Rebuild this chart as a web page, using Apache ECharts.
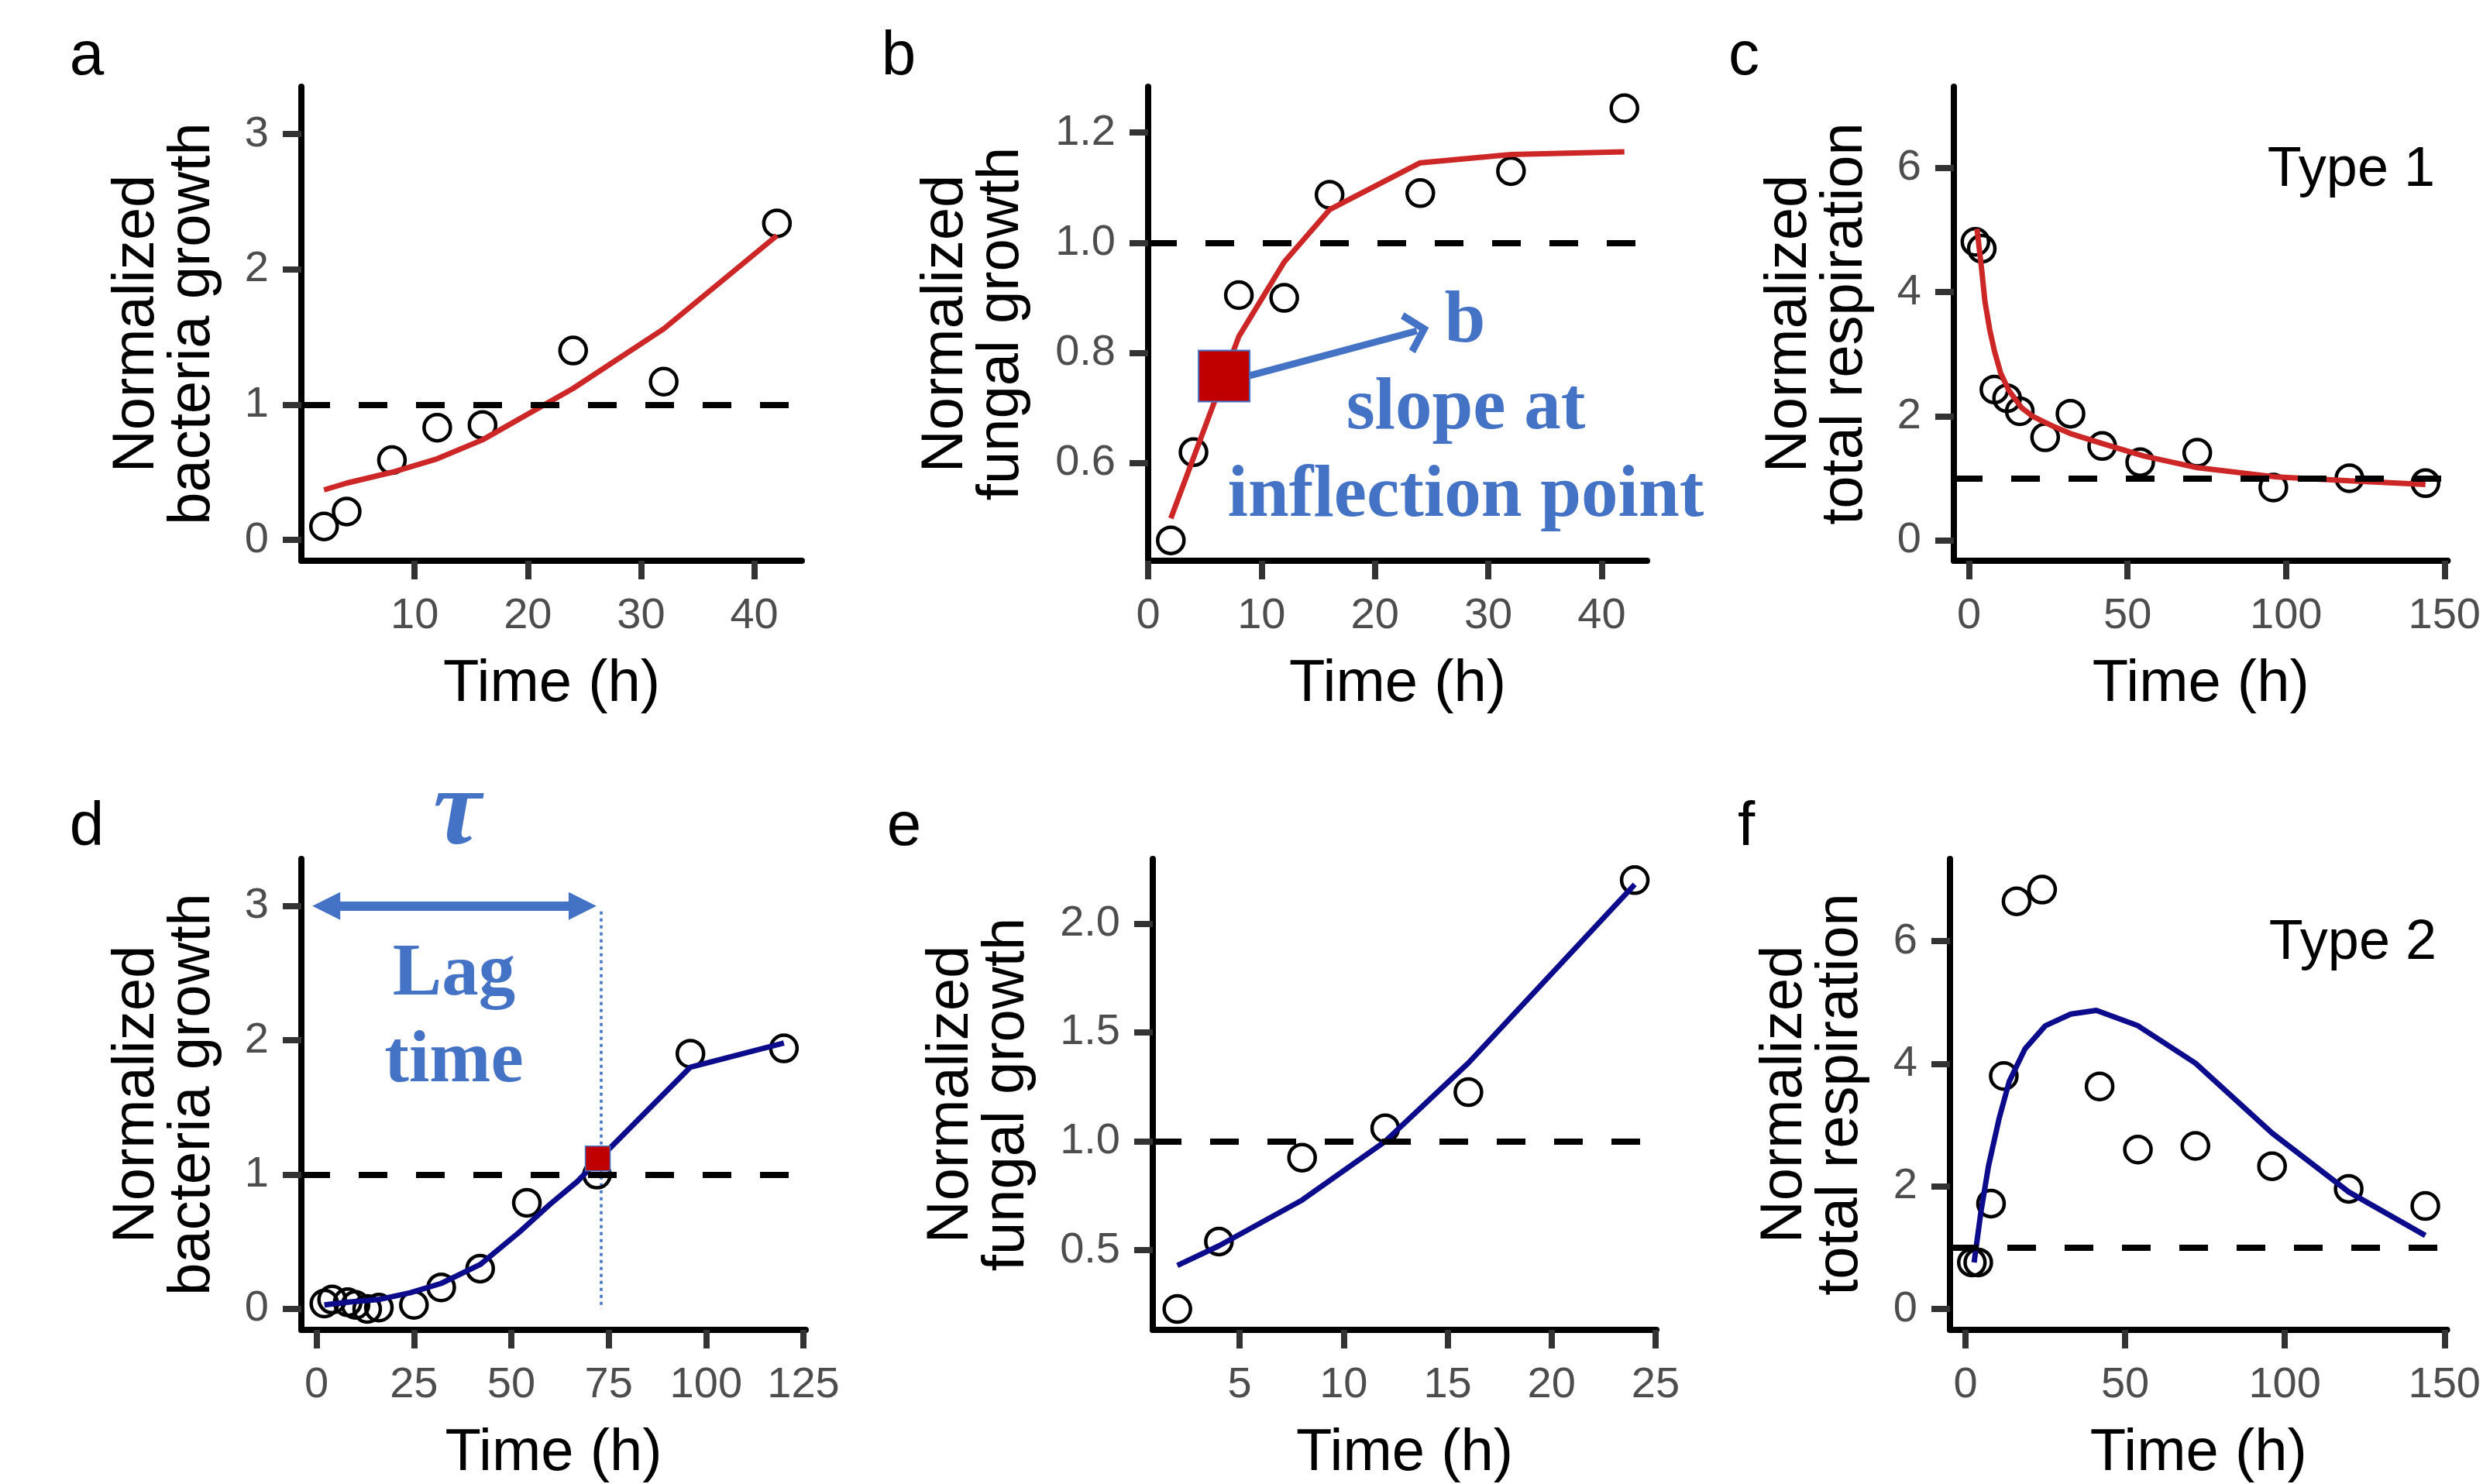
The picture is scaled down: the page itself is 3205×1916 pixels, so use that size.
<!DOCTYPE html>
<html>
<head>
<meta charset="utf-8">
<script src="https://cdn.jsdelivr.net/npm/echarts@6/dist/echarts.min.js"></script>
<style>
  html, body { margin: 0; padding: 0; background: #fff; }
  #chart { width: 3205px; height: 1916px; }
</style>
</head>
<body>
<div id="chart"></div>
<script>
// a: bacteria growth, red fit
const aTime = [2, 4, 8, 12, 16, 24, 32, 42]
const aObs = [0.10, 0.21, 0.59, 0.83, 0.85, 1.40, 1.17, 2.34]
const aFit = [0.37, 0.42, 0.50, 0.60, 0.74, 1.12, 1.56, 2.25]

// b: fungal growth, red fit
const bTime = [2, 4, 8, 12, 16, 24, 32, 42]
const bObs = [0.46, 0.62, 0.905, 0.90, 1.087, 1.09, 1.13, 1.244]
const bFit = [0.50, 0.61, 0.83, 0.965, 1.06, 1.145, 1.16, 1.165]
const bInflection = [6.7, 0.758]

// c: total respiration, type 1
const cTime = [2, 4, 8, 12, 16, 24, 32, 42, 54, 72, 96, 120, 144]
const cObs = [4.81, 4.70, 2.43, 2.29, 2.08, 1.66, 2.04, 1.52, 1.26, 1.41, 0.85, 1.00, 0.92]
const cFitTime = [2.5, 4, 5, 6.5, 8, 10, 12.5, 16.5, 20, 26, 32, 42, 55, 72, 97, 120, 144]
const cFit = [5.02, 4.35, 3.85, 3.40, 3.05, 2.69, 2.42, 2.14, 2.00, 1.85, 1.72, 1.56, 1.36, 1.17, 1.02, 0.96, 0.90]

// d: bacteria growth, navy fit
const dTime = [2, 4, 8, 10, 13, 16, 25, 32, 42, 54, 72, 96, 120]
const dObs = [0.04, 0.07, 0.05, 0.03, 0.00, 0.01, 0.03, 0.16, 0.30, 0.79, 1.00, 1.90, 1.94]
const dFitTime = [2, 8, 16, 24, 32, 42, 52, 60, 67, 72, 96, 120]
const dFit = [0.03, 0.05, 0.07, 0.12, 0.19, 0.33, 0.57, 0.78, 0.95, 1.10, 1.80, 1.98]
const dLag = [72.2, 1.12]

// e: fungal growth, navy fit
const eTime = [2, 4, 8, 12, 16, 24]
const eObs = [0.23, 0.54, 0.925, 1.06, 1.226, 2.20]
const eFit = [0.43, 0.52, 0.73, 1.00, 1.36, 2.18]

// f: total respiration, type 2
const fTime = [2, 4, 8, 12, 16, 24, 42, 54, 72, 96, 120, 144]
const fObs = [0.76, 0.76, 1.72, 3.80, 6.65, 6.84, 3.63, 2.60, 2.66, 2.33, 1.96, 1.68]
const fFitTime = [2.7, 4.8, 7.2, 10.5, 13.7, 18.6, 25, 33, 41, 54, 72, 96, 120, 144]
const fFit = [0.76, 1.57, 2.33, 3.10, 3.71, 4.24, 4.62, 4.81, 4.87, 4.62, 4.01, 2.87, 1.91, 1.20]

// tick labels
const xTicksA = [10, 20, 30, 40]
const xTicksB = [0, 10, 20, 30, 40]
const xTicksResp = [0, 50, 100, 150]
const xTicksD = [0, 25, 50, 75, 100, 125]
const xTicksE = [5, 10, 15, 20, 25]
const yTicksBact = [0, 1, 2, 3]
const yTicksB = [0.6, 0.8, 1.0, 1.2]
const yTicksResp = [0, 2, 4, 6]
const yTicksE = [0.5, 1.0, 1.5, 2.0]

const SANS = '"Liberation Sans", Arial, sans-serif'
const SERIF = '"Liberation Serif", "Times New Roman", serif'
const RED = '#cd2626'
const NAVY = '#0b0b8b'
const NOTE = '#4472c4'
const CHEVRON = 'path://M0,20 L20,0 L40,20 L35,25 L20,10 L5,25 Z'

const pairs = (t, v) => t.map((x, k) => [x, v[k]])

function axisX(i, min, max, ticks) {
  return {
    type: 'value', gridIndex: i, min: min, max: max,
    name: 'Time (h)', nameLocation: 'middle', nameGap: 122,
    nameTextStyle: { fontFamily: SANS, fontSize: 76, color: '#000' },
    axisLine: { onZero: false, lineStyle: { color: '#000', width: 8 } },
    axisTick: { customValues: ticks, length: 24, lineStyle: { color: '#333', width: 8 } },
    axisLabel: { customValues: ticks, margin: 44, fontFamily: SANS, fontSize: 56, color: '#4d4d4d' },
    splitLine: { show: false }
  }
}

function axisY(i, min, max, ticks, name, gap, digits) {
  return {
    type: 'value', gridIndex: i, min: min, max: max,
    name: name, nameLocation: 'middle', nameGap: gap,
    nameTextStyle: { fontFamily: SANS, fontSize: 76, lineHeight: 72, color: '#000' },
    axisLine: { onZero: false, lineStyle: { color: '#000', width: 8 } },
    axisTick: { customValues: ticks, length: 24, lineStyle: { color: '#333', width: 8 } },
    axisLabel: {
      customValues: ticks, margin: 42, fontFamily: SANS, fontSize: 56, color: '#4d4d4d',
      formatter: v => Number(v).toFixed(digits)
    },
    splitLine: { show: false }
  }
}

function obs(i, t, v) {
  return {
    type: 'scatter', xAxisIndex: i, yAxisIndex: i, data: pairs(t, v),
    symbol: 'circle', symbolSize: 34, clip: false, z: 2, silent: true,
    itemStyle: { color: 'rgba(0,0,0,0)', borderColor: '#000', borderWidth: 4.5, opacity: 1 },
    markLine: {
      silent: true, symbol: 'none', label: { show: false },
      lineStyle: { color: '#000', width: 8, type: [37, 37], opacity: 1 },
      data: [{ yAxis: 1 }]
    }
  }
}

function fit(i, t, v, color) {
  return {
    type: 'line', xAxisIndex: i, yAxisIndex: i, data: pairs(t, v),
    symbol: 'none', z: 3, silent: true,
    lineStyle: { color: color, width: 7 }
  }
}

function text(x, y, str, font, color, align) {
  return {
    type: 'text', x: x, y: y, z: 10, silent: true,
    style: {
      text: str, font: font, fill: color,
      align: align || 'center', textAlign: align || 'center',
      verticalAlign: 'middle', textVerticalAlign: 'middle'
    }
  }
}

const grids = [
  { left: 389, top: 112, width: 646, height: 612 },
  { left: 1482, top: 112, width: 644, height: 612 },
  { left: 2522, top: 112, width: 643, height: 612 },
  { left: 389, top: 1109, width: 651, height: 613 },
  { left: 1488, top: 1109, width: 650, height: 613 },
  { left: 2517, top: 1109, width: 648, height: 613 }
]

const chart = echarts.init(document.getElementById('chart'), null, { renderer: 'canvas' })
chart.setOption({
  backgroundColor: '#fff',
  animation: false,
  grid: grids,
  xAxis: [
    axisX(0, 0, 44.2, xTicksA),
    axisX(1, 0, 44, xTicksB),
    axisX(2, -4.8, 151, xTicksResp),
    axisX(3, -3.9, 125.6, xTicksD),
    axisX(4, 0.82, 25.04, xTicksE),
    axisX(5, -4.85, 150.8, xTicksResp)
  ],
  yAxis: [
    axisY(0, -0.154, 3.35, yTicksBact, 'Normalized\nbacteria growth', 104, 0),
    axisY(1, 0.423, 1.283, yTicksB, 'Normalized\nfungal growth', 153, 1),
    axisY(2, -0.33, 7.31, yTicksResp, 'Normalized\ntotal respiration', 104, 0),
    axisY(3, -0.156, 3.35, yTicksBact, 'Normalized\nbacteria growth', 104, 0),
    axisY(4, 0.134, 2.297, yTicksE, 'Normalized\nfungal growth', 152, 1),
    axisY(5, -0.34, 7.34, yTicksResp, 'Normalized\ntotal respiration', 105, 0)
  ],
  series: [
    obs(0, aTime, aObs), fit(0, aTime, aFit, RED),
    obs(1, bTime, bObs), fit(1, bTime, bFit, RED),
    obs(2, cTime, cObs), fit(2, cFitTime, cFit, RED),
    obs(3, dTime, dObs), fit(3, dFitTime, dFit, NAVY),
    obs(4, eTime, eObs), fit(4, eTime, eFit, NAVY),
    obs(5, fTime, fObs), fit(5, fFitTime, fFit, NAVY),
    {
      type: 'scatter', xAxisIndex: 1, yAxisIndex: 1, data: [bInflection],
      symbol: 'rect', symbolSize: 66, z: 6, silent: true,
      itemStyle: { color: '#c00000', borderColor: NOTE, borderWidth: 2, opacity: 1 },
      markLine: {
        silent: true, label: { show: false }, z: 6,
        lineStyle: { color: NOTE, width: 9, type: 'solid', opacity: 1 },
        data: [[
          { coord: [8.98, 0.759], symbol: 'none' },
          { coord: [23.7, 0.840], symbol: CHEVRON, symbolSize: [55, 32] }
        ]]
      }
    },
    {
      type: 'scatter', xAxisIndex: 3, yAxisIndex: 3, data: [dLag],
      symbol: 'rect', symbolSize: 32, z: 6, silent: true,
      itemStyle: { color: '#c00000', borderColor: NOTE, borderWidth: 1.5, opacity: 1 },
      markLine: {
        silent: true, label: { show: false }, z: 1,
        data: [
          [
            { coord: [2.5, 3], symbol: 'triangle', symbolSize: [36, 36] },
            { coord: [68.3, 3], symbol: 'triangle', symbolSize: [36, 36],
              lineStyle: { color: NOTE, width: 12, type: 'solid', opacity: 1 } }
          ],
          [
            { coord: [73.1, 2.96], symbol: 'none' },
            { coord: [73.1, 0], symbol: 'none',
              lineStyle: { color: NOTE, width: 3.5, type: [4, 5], opacity: 1 } }
          ]
        ]
      }
    }
  ],
  graphic: [
    text(112, 74, 'a', '80px ' + SANS, '#000'),
    text(1160, 74, 'b', '80px ' + SANS, '#000'),
    text(2251, 74, 'c', '80px ' + SANS, '#000'),
    text(112, 1069, 'd', '80px ' + SANS, '#000'),
    text(1167, 1069, 'e', '80px ' + SANS, '#000'),
    text(2254, 1069, 'f', '80px ' + SANS, '#000'),
    text(3143, 220, 'Type 1', '72px ' + SANS, '#000', 'right'),
    text(3145, 1218, 'Type 2', '72px ' + SANS, '#000', 'right'),
    text(1891, 416, 'b', 'bold 95px ' + SERIF, NOTE),
    text(1892, 528, 'slope at', 'bold 95px ' + SERIF, NOTE),
    text(1892, 641, 'inflection point', 'bold 95px ' + SERIF, NOTE),
    text(590, 1053, 'τ', 'italic bold 140px ' + SERIF, NOTE),
    text(586, 1259, 'Lag', 'bold 95px ' + SERIF, NOTE),
    text(586, 1371, 'time', 'bold 95px ' + SERIF, NOTE)
  ]
})
</script>
</body>
</html>
